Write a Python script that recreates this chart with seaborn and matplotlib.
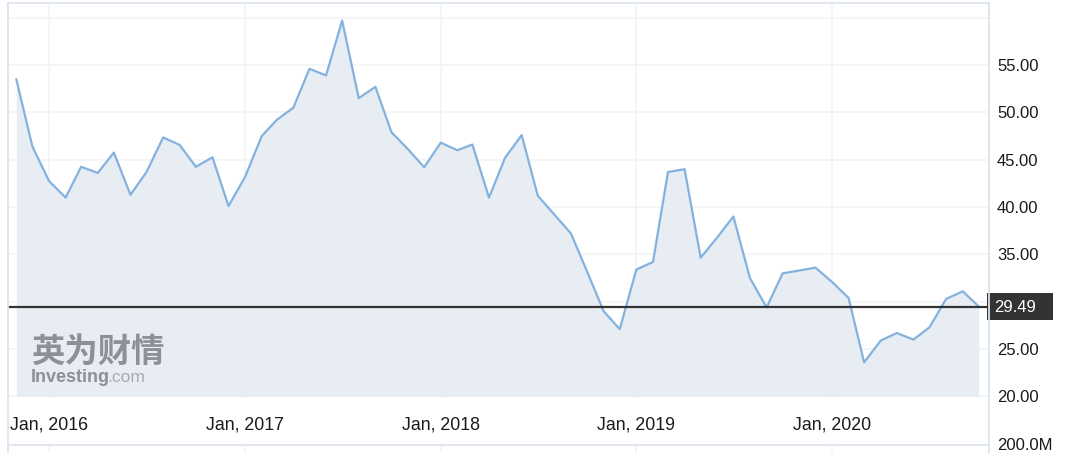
import matplotlib
matplotlib.use("Agg")
import matplotlib.pyplot as plt
import matplotlib.transforms as mtransforms
from matplotlib.lines import Line2D
from matplotlib.patches import Rectangle
import numpy as np
import pandas as pd
import seaborn as sns

# ---------------- data ----------------
months = pd.date_range("2015-11-01", "2020-10-01", freq="MS")
prices = [53.5, 46.4,
          42.75, 41.0, 44.25, 43.6, 45.75, 41.3, 43.7, 47.35, 46.55, 44.25, 45.25, 40.1,
          43.2, 47.5, 49.2, 50.5, 54.6, 53.9, 59.7, 51.5, 52.7, 47.9, 46.1, 44.2,
          46.8, 46.0, 46.6, 41.0, 45.2, 47.6, 41.2, 39.2, 37.2, 33.2, 29.0, 27.1,
          33.4, 34.2, 43.7, 44.0, 34.65, 36.8, 39.0, 32.5, 29.4, 33.0, 33.3, 33.6,
          32.1, 30.4, 23.6, 25.9, 26.7, 26.0, 27.3, 30.3, 31.1, 29.49]
y_ticks = [20, 25, 35, 40, 45, 50, 55]          # labelled ticks (30 hidden by price box)
y_grid = [20, 25, 30, 35, 40, 45, 50, 55, 60]
year_ticks = pd.to_datetime(["2016-01-01", "2017-01-01", "2018-01-01", "2019-01-01", "2020-01-01"])
x_labels = ["Jan, 2016", "Jan, 2017", "Jan, 2018", "Jan, 2019", "Jan, 2020"]
last_price = 29.49
volume_label = "200.0M"

# ---------------- style ----------------
sns.set_theme(style="white")
plt.rcParams["font.family"] = ["Liberation Sans", "DejaVu Sans"]

W, H = 1080, 453
fig = plt.figure(figsize=(W / 100, H / 100), dpi=100)
fig.patch.set_facecolor("white")

border_col = "#dde5ee"
grid_col = "#f1f3f6"
line_col = "#84b2de"
fill_col = "#e8edf4"

# main price pane
left_px, right_px, top_px, bot_px = 8, 989, 3, 398
ax = fig.add_axes([left_px / W, 1 - bot_px / H, (right_px - left_px) / W, (bot_px - top_px) / H])
ax.set_facecolor("white")

ppu = 9.47  # pixels per price unit
y_top = 55 + (65 - top_px) / ppu
y_bot = 55 - (bot_px - 65) / ppu
ax.set_ylim(y_bot, y_top)
x0 = pd.Timestamp("2016-01-01") - pd.Timedelta(days=76.5)
x1 = pd.Timestamp("2020-01-01") + pd.Timedelta(days=293)
ax.set_xlim(x0, x1)

for g in y_grid:
    ax.axhline(g, color=grid_col, lw=1.2, zorder=0)
for t in year_ticks:
    ax.axvline(t, color=grid_col, lw=1.2, zorder=0)

ax.fill_between(months, prices, y_grid[0], color=fill_col, lw=0, zorder=1)
sns.lineplot(x=months, y=prices, ax=ax, color=line_col, linewidth=1.6, zorder=3)
ax.set_xlabel("")
ax.set_ylabel("")

ax.axhline(last_price, color="#333333", lw=1.6, zorder=4)

ax.yaxis.tick_right()
ax.set_yticks(y_ticks)
ax.set_yticklabels([f"{v:.2f}" for v in y_ticks])
ax.tick_params(axis="y", length=0, pad=5.8, labelsize=12, labelcolor="#1a1a1a")
ax.set_xticks(year_ticks)
ax.set_xticklabels(x_labels)
ax.tick_params(axis="x", length=0, pad=13.5, labelsize=12.8, labelcolor="#1a1a1a")
ax.grid(False)

for s in ["left", "right", "top"]:
    ax.spines[s].set_color(border_col)
    ax.spines[s].set_linewidth(1.3)
ax.spines["bottom"].set_visible(False)

# last price box
trans = mtransforms.blended_transform_factory(ax.transAxes, ax.transData)
ax.add_patch(Rectangle((0.998, last_price - 1.45), 0.067, 2.85, transform=trans,
                       facecolor="#333333", edgecolor="none", clip_on=False, zorder=5))
ax.text(1.0054, last_price - 0.05, f"{last_price:.2f}", transform=trans, color="white",
        fontsize=12, va="center", ha="left", zorder=6, clip_on=False)

# volume pane (mostly cut off)
vax = fig.add_axes([left_px / W, -0.06, (right_px - left_px) / W, 0.06 + (1 - 445 / H)])
vax.set_xlim(x0, x1)
vax.set_facecolor("white")
for t in year_ticks:
    vax.axvline(t, color=grid_col, lw=1.2, zorder=0)
vax.set_xticks([])
vax.set_yticks([])
for s in ["left", "right", "top"]:
    vax.spines[s].set_color(border_col)
    vax.spines[s].set_linewidth(1.3)
vax.spines["bottom"].set_visible(False)

# borders through the date-label band
for xp in (left_px, right_px):
    fig.add_artist(Line2D([xp / W, xp / W], [0, 1 - top_px / H], transform=fig.transFigure,
                          color=border_col, lw=1.3))

fig.text(997 / W, 1 - 446 / H, volume_label, fontsize=12, color="#1a1a1a", va="center", ha="left")

# watermark
fig.text(31 / W, 1 - 352 / H, "英为财情", fontsize=24, fontweight="bold", color="#7b8089",
         alpha=0.85, va="center", ha="left", family=["Noto Sans CJK SC", "DejaVu Sans"])
fig.text(31 / W, 1 - 377 / H, "Investing", fontsize=13, fontweight="bold", color="#7b8089",
         alpha=0.85, va="center", ha="left")
fig.text(107 / W, 1 - 377 / H, ".com", fontsize=12.5, color="#9a9fa7",
         alpha=0.85, va="center", ha="left")

fig.savefig("out.png", dpi=100)
